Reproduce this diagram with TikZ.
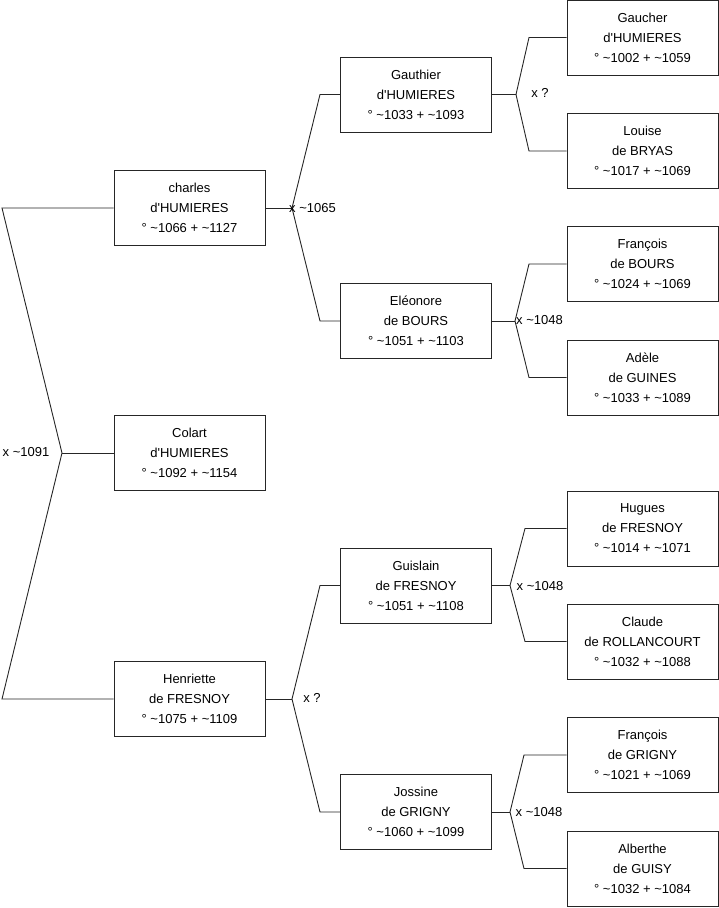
\documentclass[tikz,border=0pt]{standalone}
\usepackage{fontspec}
\setmainfont{Liberation Sans}
\begin{document}
\begin{tikzpicture}[x=1pt,y=-1pt,
  person/.style={draw=black!85, line width=0.9pt, rectangle, minimum width=151pt, minimum height=75pt,
    inner sep=0pt, align=center, font=\fontsize{13}{20}\selectfont, fill=white},
  lbl/.style={inner sep=0pt, font=\fontsize{13}{15}\selectfont},
  conn/.style={draw=black!85, line width=0.9pt}]
\useasboundingbox (0,0) rectangle (719,908);
% column 1
\node[person] (charles) at (189.5,208) {charles\\d\textquotesingle HUMIERES\\° \textasciitilde1066 + \textasciitilde1127};
\node[person] (colart) at (189.5,453) {Colart\\d\textquotesingle HUMIERES\\° \textasciitilde1092 + \textasciitilde1154};
\node[person] (henriette) at (189.5,699) {Henriette\\de FRESNOY\\° \textasciitilde1075 + \textasciitilde1109};
% column 2
\node[person] (gauthier) at (416,94.5) {Gauthier\\d\textquotesingle HUMIERES\\° \textasciitilde1033 + \textasciitilde1093};
\node[person] (eleonore) at (416,321) {Eléonore\\de BOURS\\° \textasciitilde1051 + \textasciitilde1103};
\node[person] (guislain) at (416,585.5) {Guislain\\de FRESNOY\\° \textasciitilde1051 + \textasciitilde1108};
\node[person] (jossine) at (416,812) {Jossine\\de GRIGNY\\° \textasciitilde1060 + \textasciitilde1099};
% column 3
\node[person] (gaucher) at (642.5,37.5) {Gaucher\\d\textquotesingle HUMIERES\\° \textasciitilde1002 + \textasciitilde1059};
\node[person] (louise) at (642.5,151) {Louise\\de BRYAS\\° \textasciitilde1017 + \textasciitilde1069};
\node[person] (francoisb) at (642.5,264) {François\\de BOURS\\° \textasciitilde1024 + \textasciitilde1069};
\node[person] (adele) at (642.5,377.5) {Adèle\\de GUINES\\° \textasciitilde1033 + \textasciitilde1089};
\node[person] (hugues) at (642.5,528.5) {Hugues\\de FRESNOY\\° \textasciitilde1014 + \textasciitilde1071};
\node[person] (claude) at (642.5,641.5) {Claude\\de ROLLANCOURT\\° \textasciitilde1032 + \textasciitilde1088};
\node[person] (francoisg) at (642.5,755) {François\\de GRIGNY\\° \textasciitilde1021 + \textasciitilde1069};
\node[person] (alberthe) at (642.5,868.5) {Alberthe\\de GUISY\\° \textasciitilde1032 + \textasciitilde1084};

% couple vertices and corners
\coordinate (v0) at (62,453);
\coordinate (c0a) at (2,208);
\coordinate (c0b) at (2,699);
\coordinate (v1) at (292,208);
\coordinate (c1a) at (320,94.5);
\coordinate (c1b) at (320,321);
\coordinate (v2) at (292,699);
\coordinate (c2a) at (320,585.5);
\coordinate (c2b) at (320,812);
\coordinate (v3) at (516,94.5);
\coordinate (c3a) at (529,37.5);
\coordinate (c3b) at (529,151);
\coordinate (v4) at (515,321);
\coordinate (c4a) at (529,264);
\coordinate (c4b) at (529,377.5);
\coordinate (v5) at (510,585.5);
\coordinate (c5a) at (525,528.5);
\coordinate (c5b) at (525,641.5);
\coordinate (v6) at (510,812);
\coordinate (c6a) at (524,755);
\coordinate (c6b) at (524,868.5);

% connectors
\draw[conn] (charles.west) -- (c0a) -- (v0) -- (c0b) -- (henriette.west);
\draw[conn] (v0) -- (colart.west);
\draw[conn] (charles.east) -- (v1);
\draw[conn] (gauthier.west) -- (c1a) -- (v1) -- (c1b) -- (eleonore.west);
\draw[conn] (henriette.east) -- (v2);
\draw[conn] (guislain.west) -- (c2a) -- (v2) -- (c2b) -- (jossine.west);
\draw[conn] (gauthier.east) -- (v3);
\draw[conn] (gaucher.west) -- (c3a) -- (v3) -- (c3b) -- (louise.west);
\draw[conn] (eleonore.east) -- (v4);
\draw[conn] (francoisb.west) -- (c4a) -- (v4) -- (c4b) -- (adele.west);
\draw[conn] (guislain.east) -- (v5);
\draw[conn] (hugues.west) -- (c5a) -- (v5) -- (c5b) -- (claude.west);
\draw[conn] (jossine.east) -- (v6);
\draw[conn] (francoisg.west) -- (c6a) -- (v6) -- (c6b) -- (alberthe.west);

% marriage labels
\node[lbl] (m0) at (26,452) {x \textasciitilde1091};
\node[lbl] (m1) at (312.5,208) {x \textasciitilde1065};
\node[lbl] (m2) at (312,698) {x ?};
\node[lbl] (m3) at (540,93) {x ?};
\node[lbl] (m4) at (539.5,320) {x \textasciitilde1048};
\node[lbl] (m5) at (540,586) {x \textasciitilde1048};
\node[lbl] (m6) at (539,812) {x \textasciitilde1048};
\end{tikzpicture}
\end{document}
